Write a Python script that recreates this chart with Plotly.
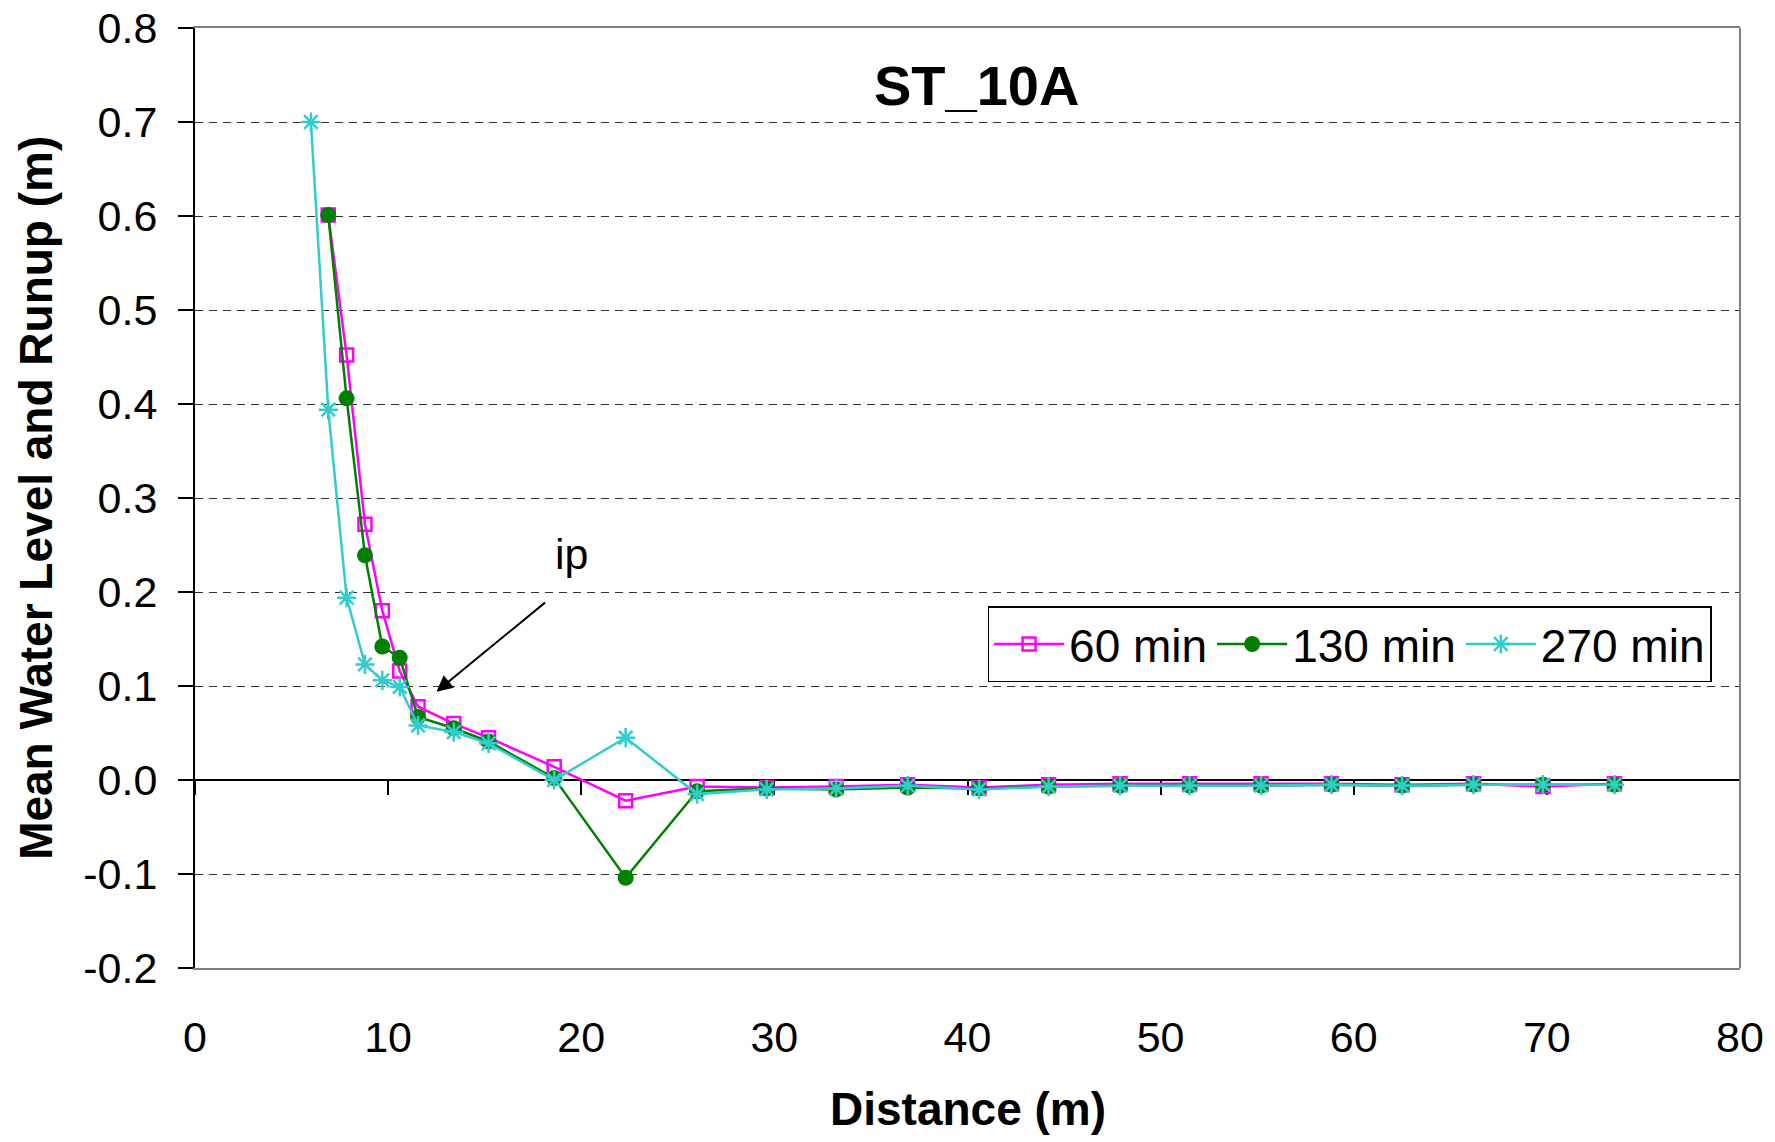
import plotly.graph_objects as go

# Cross-shore distance of the gauges (m)
dist_270 = [6.0, 6.9, 7.85, 8.8, 9.7, 10.6, 11.55, 13.4, 15.2, 18.6, 22.3, 26.0,
            29.6, 33.2, 36.9, 40.6, 44.2, 47.9, 51.5, 55.2, 58.85, 62.5, 66.2, 69.8, 73.5]
dist = dist_270[1:]

# Mean water level and runup (m)
mwl_60 = [0.601, 0.452, 0.272, 0.180, 0.116, 0.078, 0.060, 0.045, 0.014, -0.022, -0.007,
          -0.008, -0.007, -0.005, -0.008, -0.005, -0.004, -0.004, -0.004, -0.004, -0.005,
          -0.004, -0.007, -0.004]
mwl_130 = [0.601, 0.406, 0.239, 0.142, 0.130, 0.067, 0.055, 0.041, 0.002, -0.104, -0.012,
           -0.009, -0.010, -0.008, -0.009, -0.007, -0.006, -0.006, -0.006, -0.005, -0.006,
           -0.005, -0.005, -0.005]
mwl_270 = [0.700, 0.394, 0.194, 0.123, 0.106, 0.099, 0.058, 0.051, 0.039, 0.000, 0.045,
           -0.015, -0.010, -0.009, -0.006, -0.010, -0.007, -0.006, -0.006, -0.006, -0.005,
           -0.006, -0.005, -0.005, -0.005]

series_names = ["60 min", "130 min", "270 min"]
x_ticks = [0, 10, 20, 30, 40, 50, 60, 70, 80]
y_ticks = [-0.2, -0.1, 0.0, 0.1, 0.2, 0.3, 0.4, 0.5, 0.6, 0.7, 0.8]
y_tick_text = [f"{v:.1f}".replace("\u2212", "-") for v in y_ticks]

FONT = "Liberation Sans, Arial, sans-serif"

fig = go.Figure()

fig.add_trace(go.Scatter(
    x=dist, y=mwl_60, name=series_names[0], mode="lines+markers",
    line=dict(color="#FF00FF", width=2.5),
    marker=dict(symbol="square-open", size=13, color="#FF00FF", line=dict(width=2.5, color="#FF00FF")),
))
fig.add_trace(go.Scatter(
    x=dist, y=mwl_130, name=series_names[1], mode="lines+markers",
    line=dict(color="#008000", width=2.5),
    marker=dict(symbol="circle", size=16, color="#008000"),
))
fig.add_trace(go.Scatter(
    x=dist_270, y=mwl_270, name=series_names[2], mode="lines+markers",
    line=dict(color="#33CCCC", width=2.5),
    marker=dict(symbol="asterisk-open", size=16, color="#33CCCC", line=dict(width=2.5, color="#33CCCC")),
))
# carrier for the zero-level axis
fig.add_trace(go.Scatter(x=[], y=[], xaxis="x2", yaxis="y", showlegend=False, hoverinfo="skip"))

fig.update_layout(
    width=1775, height=1142,
    margin=dict(l=195, r=35, t=28, b=174),
    paper_bgcolor="white", plot_bgcolor="white",
    font=dict(family=FONT, color="black"),
    showlegend=True,
    legend=dict(
        orientation="h", x=0.513, y=0.385, xanchor="left", yanchor="top",
        font=dict(size=46, family=FONT), bgcolor="white",
        bordercolor="black", borderwidth=1.5, itemwidth=70,
    ),
    xaxis=dict(
        range=[0, 80], tickvals=x_ticks, ticks="", showgrid=False, zeroline=False,
        showline=True, linecolor="#808080", linewidth=2, mirror=True, automargin=False,
        tickfont=dict(size=43, family=FONT), ticklabelstandoff=30,
    ),
    xaxis2=dict(
        range=[0, 80], tickvals=x_ticks, overlaying="x", anchor="free", position=0.2,
        side="bottom", ticks="outside", ticklen=14, tickcolor="black", tickwidth=1.5,
        showticklabels=False, showgrid=False, zeroline=False, automargin=False,
        showline=True, linecolor="black", linewidth=2, layer="below traces",
    ),
    yaxis=dict(
        range=[-0.2, 0.8], tickvals=y_ticks, ticktext=y_tick_text,
        ticks="outside", ticklen=15, tickcolor="black", tickwidth=1.5,
        showgrid=True, gridcolor="#333333", gridwidth=1.2, griddash="8px,6px",
        zeroline=False, showline=True, linecolor="black", linewidth=2, automargin=False,
        tickfont=dict(size=43, family=FONT), ticklabelstandoff=12,
    ),
)

# right-hand frame of the plot area
fig.add_shape(type="line", xref="paper", yref="paper", x0=1, x1=1, y0=0, y1=1,
              line=dict(color="#808080", width=2))

# axis titles
fig.add_annotation(text="<b>Distance (m)</b>", xref="paper", yref="paper",
                   x=0.5, y=-0.15, yanchor="middle", xanchor="center", showarrow=False,
                   font=dict(size=46, family=FONT, color="black"))
fig.add_annotation(text="<b>Mean Water Level and Runup (m)</b>", xref="paper", yref="paper",
                   x=-0.103, y=0.5, xanchor="center", yanchor="middle", textangle=-90,
                   showarrow=False, font=dict(size=46, family=FONT, color="black"))

fig.add_annotation(text="<b>ST_10A</b>", xref="paper", yref="paper", x=0.506, y=0.939,
                   xanchor="center", yanchor="middle", showarrow=False,
                   font=dict(size=56, family=FONT, color="black"))

# incipient point marker
fig.add_annotation(text="ip", x=19.5, y=0.24, xref="x", yref="y", showarrow=False,
                   font=dict(size=43, family=FONT, color="black"))
fig.add_annotation(text="", x=12.5, y=0.094, ax=18.2, ay=0.19, xref="x", yref="y",
                   axref="x", ayref="y", showarrow=True, arrowhead=2, arrowsize=1.6,
                   arrowwidth=2, arrowcolor="black")

fig.write_html("out.html")
